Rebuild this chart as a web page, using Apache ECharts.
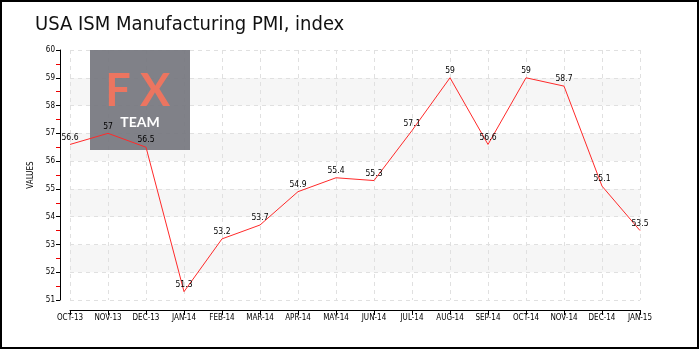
<!DOCTYPE html>
<html>
<head>
<meta charset="utf-8">
<script src="https://cdn.jsdelivr.net/npm/echarts@6/dist/echarts.min.js"></script>
<style>
  html, body { margin: 0; padding: 0; background: #fff; }
  #chart { width: 700px; height: 350px; }
</style>
</head>
<body>
<div id="chart"></div>
<script>
// Monthly ISM manufacturing index
const months = ['Oct-13', 'Nov-13', 'Dec-13', 'Jan-14', 'Feb-14', 'Mar-14', 'Apr-14', 'May-14',
                'Jun-14', 'Jul-14', 'Aug-14', 'Sep-14', 'Oct-14', 'Nov-14', 'Dec-14', 'Jan-15'];
const pmiValues = [56.6, 57, 56.5, 51.3, 53.2, 53.7, 54.9, 55.4, 55.3, 57.1, 59, 56.6, 59, 58.7, 55.1, 53.5];
const titleText = 'USA ISM Manufacturing PMI, index';
const yAxisName = 'VALUES';

const tickFont = "'DejaVu Sans Condensed', sans-serif";
const titleFont = "'Liberation Sans Narrow', 'DejaVu Sans Condensed', sans-serif";

const chart = echarts.init(document.getElementById('chart'), null, { renderer: 'canvas' });
chart.setOption({
  animation: false,
  backgroundColor: '#fff',
  title: {
    text: titleText,
    left: 30,
    top: 10,
    textStyle: { fontFamily: titleFont, fontWeight: 'normal', fontSize: 20, color: '#111' }
  },
  grid: { left: 70, right: 60, top: 50, bottom: 50 },
  graphic: [
    {
      type: 'rect', z: 100, silent: true,
      shape: { x: 1, y: 1, width: 697, height: 347 },
      style: { fill: 'none', stroke: '#000', lineWidth: 2 }
    },
    {
      type: 'rect', z: 2, silent: true,
      shape: { x: 90, y: 50, width: 100, height: 100 },
      style: { fill: 'rgba(118,119,127,0.93)' }
    },
    {
      type: 'text', z: 3, silent: true, x: 118, y: 91,
      style: { text: 'F', font: 'bold 45px Lato, sans-serif', fill: '#ec7560', align: 'center', verticalAlign: 'middle' }
    },
    {
      type: 'text', z: 3, silent: true, x: 155, y: 91,
      style: { text: 'X', font: 'bold 45px Lato, sans-serif', fill: '#ec7560', align: 'center', verticalAlign: 'middle' }
    },
    {
      type: 'text', z: 3, silent: true, x: 140, y: 122,
      style: { text: 'TEAM', font: 'bold 14px Lato, sans-serif', fill: '#fff', align: 'center', verticalAlign: 'middle' }
    }
  ],
  xAxis: {
    type: 'category',
    data: months,
    boundaryGap: false,
    offset: 10,
    axisLine: { lineStyle: { color: '#000', width: 1 } },
    axisTick: { show: true, length: 5, lineStyle: { color: '#000' } },
    axisLabel: {
      interval: 0, margin: 4, fontSize: 8, color: '#000', fontFamily: tickFont,
      formatter: v => v.toUpperCase()
    },
    splitLine: { show: true, lineStyle: { color: '#e0e0e0', type: [4, 4] } }
  },
  yAxis: {
    type: 'value',
    min: 51, max: 60, interval: 1,
    offset: 10,
    name: yAxisName,
    nameLocation: 'middle',
    nameGap: 18,
    nameRotate: 90,
    nameTextStyle: { fontSize: 8, color: '#000', fontFamily: tickFont },
    axisLine: { show: true, lineStyle: { color: '#000', width: 1 } },
    axisTick: { show: true, length: 4, lineStyle: { color: '#000' } },
    minorTick: { show: true, splitNumber: 2, length: 4, lineStyle: { color: '#e00' } },
    axisLabel: { margin: 5, fontSize: 8, color: '#000', fontFamily: tickFont },
    splitLine: { show: true, lineStyle: { color: '#e0e0e0', type: [4, 4] } },
    splitArea: { show: true, areaStyle: { color: ['#ffffff', '#f6f6f6'] } }
  },
  series: [{
    type: 'line',
    data: pmiValues,
    showSymbol: true,
    symbol: 'circle',
    symbolSize: 1,
    itemStyle: { color: 'rgba(255,42,42,0)' },
    z: 5,
    lineStyle: { color: '#ff2a2a', width: 1 },
    label: {
      show: true, position: 'top', distance: 2,
      fontSize: 8.5, color: '#000', fontFamily: tickFont
    }
  }]
});
</script>
</body>
</html>
